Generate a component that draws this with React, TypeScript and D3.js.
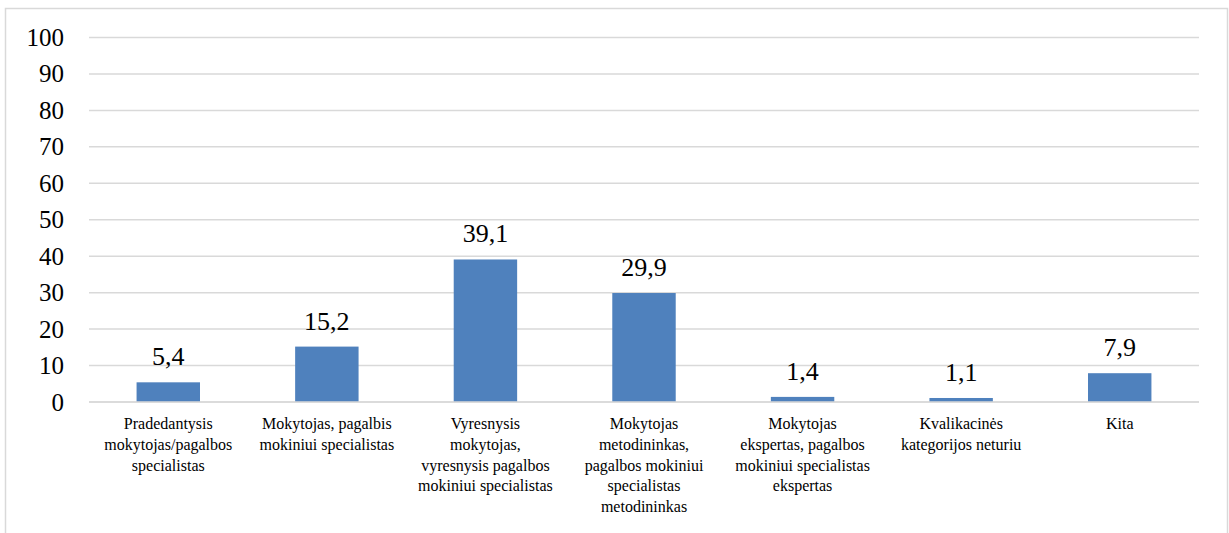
import React from "react";
import * as d3 from "d3";

const categoryLines: string[][] = [
  ["Pradedantysis", "mokytojas/pagalbos", "specialistas"],
  ["Mokytojas, pagalbis", "mokiniui specialistas"],
  ["Vyresnysis", "mokytojas,", "vyresnysis pagalbos", "mokiniui specialistas"],
  ["Mokytojas", "metodininkas,", "pagalbos mokiniui", "specialistas", "metodininkas"],
  ["Mokytojas", "ekspertas, pagalbos", "mokiniui specialistas", "ekspertas"],
  ["Kvalikacinės", "kategorijos neturiu"],
  ["Kita"],
];
const values: number[] = [5.4, 15.2, 39.1, 29.9, 1.4, 1.1, 7.9];
const yTicks: number[] = [0, 10, 20, 30, 40, 50, 60, 70, 80, 90, 100];

const W = 1229;
const H = 533;
const FONT = '"Times New Roman", "Liberation Serif", Tinos, serif';

export default function App() {
  const left = 89, right = 1199, top = 37.5, bottom = 402;
  const idx = values.map((_, i) => String(i));
  const x = d3.scaleBand<string>().domain(idx).range([left, right]).paddingInner(0.6).paddingOuter(0.3);
  const y = d3.scaleLinear().domain([0, 100]).range([bottom, top]);
  const grid = "#d9d9d9";

  const texts: React.ReactNode[] = [];
  yTicks.forEach(t => {
    texts.push(
      <text key={"t" + t} x={64} y={y(t) + 8.5} textAnchor="end" style={{ fontFamily: FONT, fontSize: "25px" }}>{t}</text>
    );
  });
  values.forEach((v, i) => {
    texts.push(
      <text key={"v" + i} x={(x(String(i)) as number) + x.bandwidth() / 2} y={y(v) - 17} textAnchor="middle"
        style={{ fontFamily: FONT, fontSize: "26px" }}>{v.toFixed(1).replace(".", ",")}</text>
    );
  });
  categoryLines.forEach((lines, i) => {
    const cx = (x(String(i)) as number) + x.bandwidth() / 2;
    lines.forEach((ln, j) => {
      texts.push(
        <text key={"c" + i + "_" + j} x={cx} y={429 + j * 20.8} textAnchor="middle"
          style={{ fontFamily: FONT, fontSize: "16px" }}>{ln}</text>
      );
    });
  });

  return (
    <svg width={W} height={H} style={{ position: "absolute", left: 0, top: 0 }}>
      <rect x={5.5} y={8.5} width={1222} height={600} fill="white" stroke={grid} strokeWidth={1.5} />
      {yTicks.map(t => (
        <line key={"g" + t} x1={left} x2={right} y1={y(t)} y2={y(t)} stroke={grid} strokeWidth={1.5} />
      ))}
      {values.map((v, i) => (
        <rect key={"b" + i} x={x(String(i))} width={x.bandwidth()} y={y(v)} height={bottom - y(v)} fill="#4f81bd" />
      ))}
      <line x1={left} x2={right} y1={bottom} y2={bottom} stroke={grid} strokeWidth={1.5} />
      {texts}
    </svg>
  );
}
